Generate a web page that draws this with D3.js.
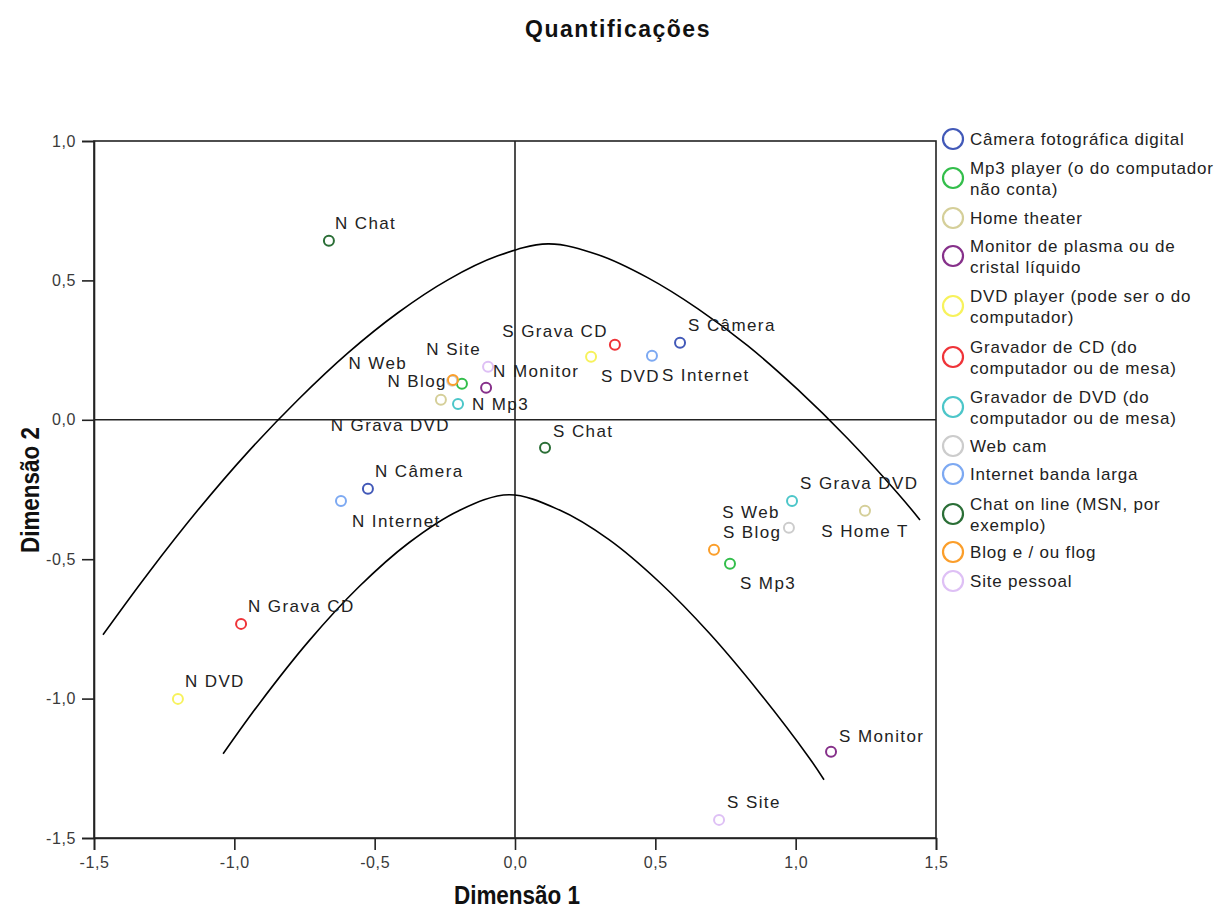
<!DOCTYPE html>
<html>
<head>
<meta charset="utf-8">
<script src="https://cdn.jsdelivr.net/npm/d3@7"></script>
<style>
  body { margin: 0; background: #fff; }
  svg { display: block; }
  text { font-family: 'Liberation Sans', Arial, sans-serif; }
</style>
</head>
<body>
<svg id="chart" width="1221" height="908"></svg>
<script>
// ---------------- DATA ----------------
const categories = [
  "Câmera fotográfica digital",
  "Mp3 player (o do computador não conta)",
  "Home theater",
  "Monitor de plasma ou de cristal líquido",
  "DVD player (pode ser o do computador)",
  "Gravador de CD (do computador ou de mesa)",
  "Gravador de DVD (do computador ou de mesa)",
  "Web cam",
  "Internet banda larga",
  "Chat on line (MSN, por exemplo)",
  "Blog e / ou flog",
  "Site pessoal"
];
const legendLines = [
  ["Câmera fotográfica digital"],
  ["Mp3 player (o do computador", "não conta)"],
  ["Home theater"],
  ["Monitor de plasma ou de", "cristal líquido"],
  ["DVD player (pode ser o do", "computador)"],
  ["Gravador de CD (do", "computador ou de mesa)"],
  ["Gravador de DVD (do", "computador ou de mesa)"],
  ["Web cam"],
  ["Internet banda larga"],
  ["Chat on line (MSN, por", "exemplo)"],
  ["Blog e / ou flog"],
  ["Site pessoal"]
];
const colors = ["#4259B8","#33BE4B","#D5CF99","#86308A","#F7F25C","#EF3338","#4CC6C9","#CCCCCC","#7DA9F2","#2A6E36","#FB9E2A","#DEC0F5"];

// point labels, category index, Dimension 1, Dimension 2
const pointLabels = ["N Câmera","S Câmera","N Mp3","S Mp3","N Home T","S Home T","N Monitor","S Monitor","N DVD","S DVD","N Grava CD","S Grava CD","N Grava DVD","S Grava DVD","N Web","S Web","N Internet","S Internet","N Chat","S Chat","N Blog","S Blog","N Site","S Site"];
const pointCategory = [0,0,1,1,2,2,3,3,4,4,5,5,6,6,7,7,8,8,9,9,10,10,11,11];
const dim1 = [-0.524, 0.588, -0.189, 0.766, -0.264, 1.247, -0.103, 1.126, -1.201, 0.271, -0.976, 0.356, -0.203, 0.987, -0.224, 0.976, -0.620, 0.488, -0.663, 0.107, -0.221, 0.709, -0.096, 0.727];
const dim2 = [-0.247, 0.276, 0.129, -0.516, 0.072, -0.326, 0.115, -1.191, -1.001, 0.226, -0.732, 0.269, 0.057, -0.291, 0.140, -0.387, -0.291, 0.230, 0.642, -0.100, 0.143, -0.466, 0.190, -1.435];
const showLabel = [true,true,true,true,false,true,true,true,true,true,true,true,true,true,true,true,true,true,true,true,true,true,true,true];

const xTicks = [-1.5, -1.0, -0.5, 0.0, 0.5, 1.0, 1.5];
const yTicks = [-1.5, -1.0, -0.5, 0.0, 0.5, 1.0];
const xDomain = [-1.5, 1.5];
const yDomain = [-1.5, 1.0];

// hand-drawn annotation curves (data units)
const upperCurveX = [-1.468,-1.308,-1.129,-0.951,-0.773,-0.595,-0.417,-0.239,-0.061,0.118,0.296,0.474,0.652,0.830,1.008,1.186,1.365,1.443];
const upperCurveY = [-0.771,-0.552,-0.323,-0.115,0.072,0.240,0.384,0.502,0.588,0.631,0.592,0.509,0.398,0.265,0.108,-0.068,-0.265,-0.359];
const lowerCurveX = [-1.040,-0.912,-0.734,-0.556,-0.378,-0.200,-0.021,0.157,0.335,0.513,0.691,0.869,1.048,1.101];
const lowerCurveY = [-1.198,-1.019,-0.793,-0.599,-0.441,-0.326,-0.269,-0.323,-0.430,-0.581,-0.764,-0.976,-1.212,-1.291];

// label placement relative to marker (pixels) : [dx, dy, anchor]
const labelPlacement = {
  "N Câmera":[7,-12,"start"], "S Câmera":[8,-12,"start"],
  "N Mp3":[10,26,"start"], "S Mp3":[10,25,"start"],
  "S Home T":[0,26,"middle"],
  "N Monitor":[7,-11,"start"], "S Monitor":[8,-10,"start"],
  "N DVD":[7,-12,"start"], "S DVD":[10,25,"start"],
  "N Grava CD":[7,-12,"start"], "S Grava CD":[-7,-8,"end"],
  "N Grava DVD":[-8,27,"end"], "S Grava DVD":[8,-12,"start"],
  "N Web":[-45,-12,"end"], "S Web":[-9,-10,"end"],
  "N Internet":[11,26,"start"], "S Internet":[10,25,"start"],
  "N Chat":[6,-12,"start"], "S Chat":[8,-11,"start"],
  "N Blog":[-6,7,"end"], "S Blog":[9,-12,"start"],
  "N Site":[-7,-12,"end"], "S Site":[8,-12,"start"]
};

// ---------------- LAYOUT ----------------
const svg = d3.select("#chart");
const L = 94, R = 936, T = 141, B = 838;
const x = d3.scaleLinear().domain(xDomain).range([L, R]);
const y = d3.scaleLinear().domain(yDomain).range([B, T]);
const fmt = d => d3.format(".1f")(d).replace(".", ",").replace("−", "-");

// title
svg.append("text").attr("x", 618).attr("y", 37).attr("text-anchor", "middle")
  .style("font-size", "23px").style("font-weight", "bold").style("letter-spacing", "1.5px")
  .attr("fill", "#111").text("Quantificações");

// frame
svg.append("rect").attr("x", L).attr("y", T).attr("width", R - L).attr("height", B - T)
  .attr("fill", "none").attr("stroke", "#222").attr("stroke-width", 1.6);

// reference lines
svg.append("line").attr("x1", x(0)).attr("x2", x(0)).attr("y1", T).attr("y2", B)
  .attr("stroke", "#222").attr("stroke-width", 1.6);
svg.append("line").attr("x1", L).attr("x2", R).attr("y1", y(0)).attr("y2", y(0))
  .attr("stroke", "#222").attr("stroke-width", 1.6);

// axes
const xAxis = svg.append("g").attr("transform", `translate(0,${B})`)
  .call(d3.axisBottom(x).tickValues(xTicks).tickFormat(fmt).tickSize(12).tickPadding(7));
const yAxis = svg.append("g").attr("transform", `translate(${L},0)`)
  .call(d3.axisLeft(y).tickValues(yTicks).tickFormat(fmt).tickSize(12).tickPadding(6));
[xAxis, yAxis].forEach(g => {
  g.attr("font-size", null).attr("font-family", null);
  g.select(".domain").attr("stroke", "#222").attr("stroke-width", 1.6);
  g.selectAll(".tick line").attr("stroke", "#222").attr("stroke-width", 1.6);
  g.selectAll(".tick text").attr("fill", "#3a3a3a")
    .style("font-size", "16px").style("letter-spacing", "0.6px")
    .style("font-family", "'Liberation Sans', Arial, sans-serif");
});

// axis titles (condensed bold)
svg.append("text").attr("transform", "translate(517,904) scale(0.9,1)").attr("text-anchor", "middle")
  .style("font-size", "25px").style("font-weight", "bold").attr("fill", "#111").text("Dimensão 1");
svg.append("text").attr("transform", "translate(39,490) rotate(-90) scale(0.9,1)").attr("text-anchor", "middle")
  .style("font-size", "25px").style("font-weight", "bold").attr("fill", "#111").text("Dimensão 2");

// curves
const line = d3.line().x(d => x(d[0])).y(d => y(d[1])).curve(d3.curveCatmullRom);
svg.append("path").datum(upperCurveX.map((v, i) => [v, upperCurveY[i]]))
  .attr("d", line).attr("fill", "none").attr("stroke", "#000").attr("stroke-width", 1.6);
svg.append("path").datum(lowerCurveX.map((v, i) => [v, lowerCurveY[i]]))
  .attr("d", line).attr("fill", "none").attr("stroke", "#000").attr("stroke-width", 1.6);

// points (drawn in legend order)
const pts = pointLabels.map((n, i) => ({ name: n, c: pointCategory[i], x: dim1[i], y: dim2[i], show: showLabel[i] }));
const ordered = pts.slice().sort((a, b) => a.c - b.c);
svg.append("g").selectAll("circle").data(ordered).join("circle")
  .attr("cx", d => x(d.x)).attr("cy", d => y(d.y)).attr("r", 5)
  .attr("fill", "none").attr("stroke", d => colors[d.c]).attr("stroke-width", 2);

// labels
svg.append("g").selectAll("text").data(pts.filter(d => d.show)).join("text")
  .attr("x", d => x(d.x) + labelPlacement[d.name][0])
  .attr("y", d => y(d.y) + labelPlacement[d.name][1])
  .attr("text-anchor", d => labelPlacement[d.name][2])
  .style("font-size", "17px").style("letter-spacing", "1.4px").attr("fill", "#222")
  .text(d => d.name);

// legend
const legendCircleY = [139, 178, 218, 256, 306, 357, 407, 446, 474, 514, 552, 581];
const lg = svg.append("g");
categories.forEach((c, i) => {
  lg.append("circle").attr("cx", 953).attr("cy", legendCircleY[i]).attr("r", 10)
    .attr("fill", "none").attr("stroke", colors[i]).attr("stroke-width", 2.2);
  const lines = legendLines[i];
  const startY = legendCircleY[i] - (lines.length - 1) * 10.5;
  lines.forEach((t, j) => {
    lg.append("text").attr("x", 970).attr("y", startY + j * 21 + 6)
      .style("font-size", "17px").style("letter-spacing", "0.8px").attr("fill", "#222").text(t);
  });
});
</script>
</body>
</html>
